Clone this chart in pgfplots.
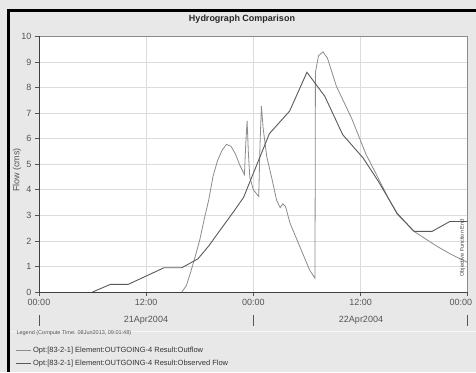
\documentclass[border=0pt]{standalone}
\usepackage{pgfplots}
\pgfplotsset{compat=1.18}
\usepackage{fontspec}
\setmainfont{Liberation Sans}
\definecolor{bg}{RGB}{232,232,232}
\definecolor{obs}{RGB}{90,90,90}
\definecolor{outf}{RGB}{140,140,140}
\definecolor{gridc}{RGB}{220,220,220}
\definecolor{txt}{RGB}{85,85,85}

\pgfplotstableread{
h v
6 0
8 0.3
10 0.3
14 0.95
16 0.95
17.8 1.3
19 1.8
20.3 2.43
21.8 3.15
22.9 3.7
25.8 6.2
28.06 7.08
30 8.6
32 7.66
34 6.16
36.3 5.24
38 4.33
40.1 3.08
42 2.37
44 2.37
46 2.76
48 2.76
}\observed

\pgfplotstableread{
h v
16 0
16.5 0.25
17 0.8
17.5 1.4
18 2.04
18.5 2.85
19 3.6
19.5 4.55
20 5.15
20.5 5.55
21 5.78
21.5 5.7
22 5.4
22.5 4.95
23.0 4.6
23.15 5.8
23.3 6.7
23.45 5.4
23.6 4.5
24.0 4.0
24.6 3.74
24.75 5.8
24.9 7.27
25.1 6.4
25.5 5.3
26.1 4.4
26.6 3.6
27.0 3.3
27.3 3.45
27.6 3.35
28.1 2.7
29.2 1.78
30.3 0.86
30.9 0.54
30.95 8.6
31.3 9.25
31.8 9.4
32.3 9.15
33.3 8.05
35.0 6.8
36.6 5.4
37.7 4.65
39.0 3.75
40.1 3.05
42.0 2.37
44.6 1.78
46.0 1.5
47.8 1.19
48 1.15
}\outflow

\begin{document}
\begin{tikzpicture}[x=1pt,y=1pt]
\useasboundingbox (0,0) rectangle (476,372);
\fill[bg] (0,0) rectangle (476,372);
\draw[black, line width=3pt] (7,361.5) -- (476,361.5);
\draw[black, line width=3pt] (8.5,0) -- (8.5,363);
\node[font=\bfseries\fontsize{9}{10}\selectfont, text=black!85] at (242,353) {Hydrograph Comparison};
\node[rotate=90, font=\fontsize{9}{10}\selectfont, text=txt] at (17,202) {Flow (cms)};
\draw[white!60!bg, line width=0.8pt] (10,41) -- (476,41);
\begin{axis}[
  at={(39pt,80pt)}, anchor=south west, scale only axis,
  width=428.7pt, height=255.5pt,
  xmin=0, xmax=48, ymin=0, ymax=10,
  axis background/.style={fill=white},
  xtick={0,12,24,36,48},
  xticklabels={00:00,12:00,00:00,12:00,{}},
  extra x ticks={48}, extra x tick labels={00:00},
  extra x tick style={tick label style={anchor=north east, xshift=8pt}, grid=none},
  ytick={0,1,...,10},
  xtick pos=lower, ytick pos=left,
  grid=major, grid style={gridc, line width=0.8pt},
  tick align=outside, major tick length=4pt,
  tick style={txt, line width=0.6pt},
  axis line style={black!45, line width=0.6pt},
  /pgf/number format/assume math mode=true,
  ticklabel style={font=\fontsize{9}{10}\selectfont, text=txt},
  legend style={at={(-0.056,-0.205)}, anchor=north west, draw=none, fill=none,
    font=\fontsize{7.5}{9}\selectfont, row sep=2.2pt, inner sep=0pt,
    text=black!80},
  legend cell align=left,
  legend image code/.code={\draw[#1] (0pt,0pt) -- (15pt,0pt);},
]
\addplot[outf, line width=0.8pt] table[x=h, y=v] {\outflow};
\addlegendentry{Opt:[83-2-1] Element:OUTGOING-4 Result:Outflow}
\addplot[obs, line width=0.9pt] table[x=h, y=v] {\observed};
\addlegendentry{Opt:[83-2-1] Element:OUTGOING-4 Result:Observed Flow}
\draw[black!75, line width=0.9pt] (rel axis cs:0,1) -- (rel axis cs:0,0) -- (rel axis cs:1,0);
\end{axis}
\node[rotate=90, font=\fontsize{5.5}{6}\selectfont, text=black!75] at (462.5,124) {Objective Function End};
\foreach \xx in {39,253.3,467.7} {\draw[txt, line width=0.9pt] (\xx,46.3) -- (\xx,57);}
\node[font=\fontsize{9}{10}\selectfont, text=txt] at (146,52) {21Apr2004};
\node[font=\fontsize{9}{10}\selectfont, text=txt] at (361,52) {22Apr2004};
\node[anchor=west, font=\fontsize{5.5}{6}\selectfont, text=txt] at (13,39) {Legend (Compute Time: 08Jun2013, 09:01:48)};
\end{tikzpicture}
\end{document}
